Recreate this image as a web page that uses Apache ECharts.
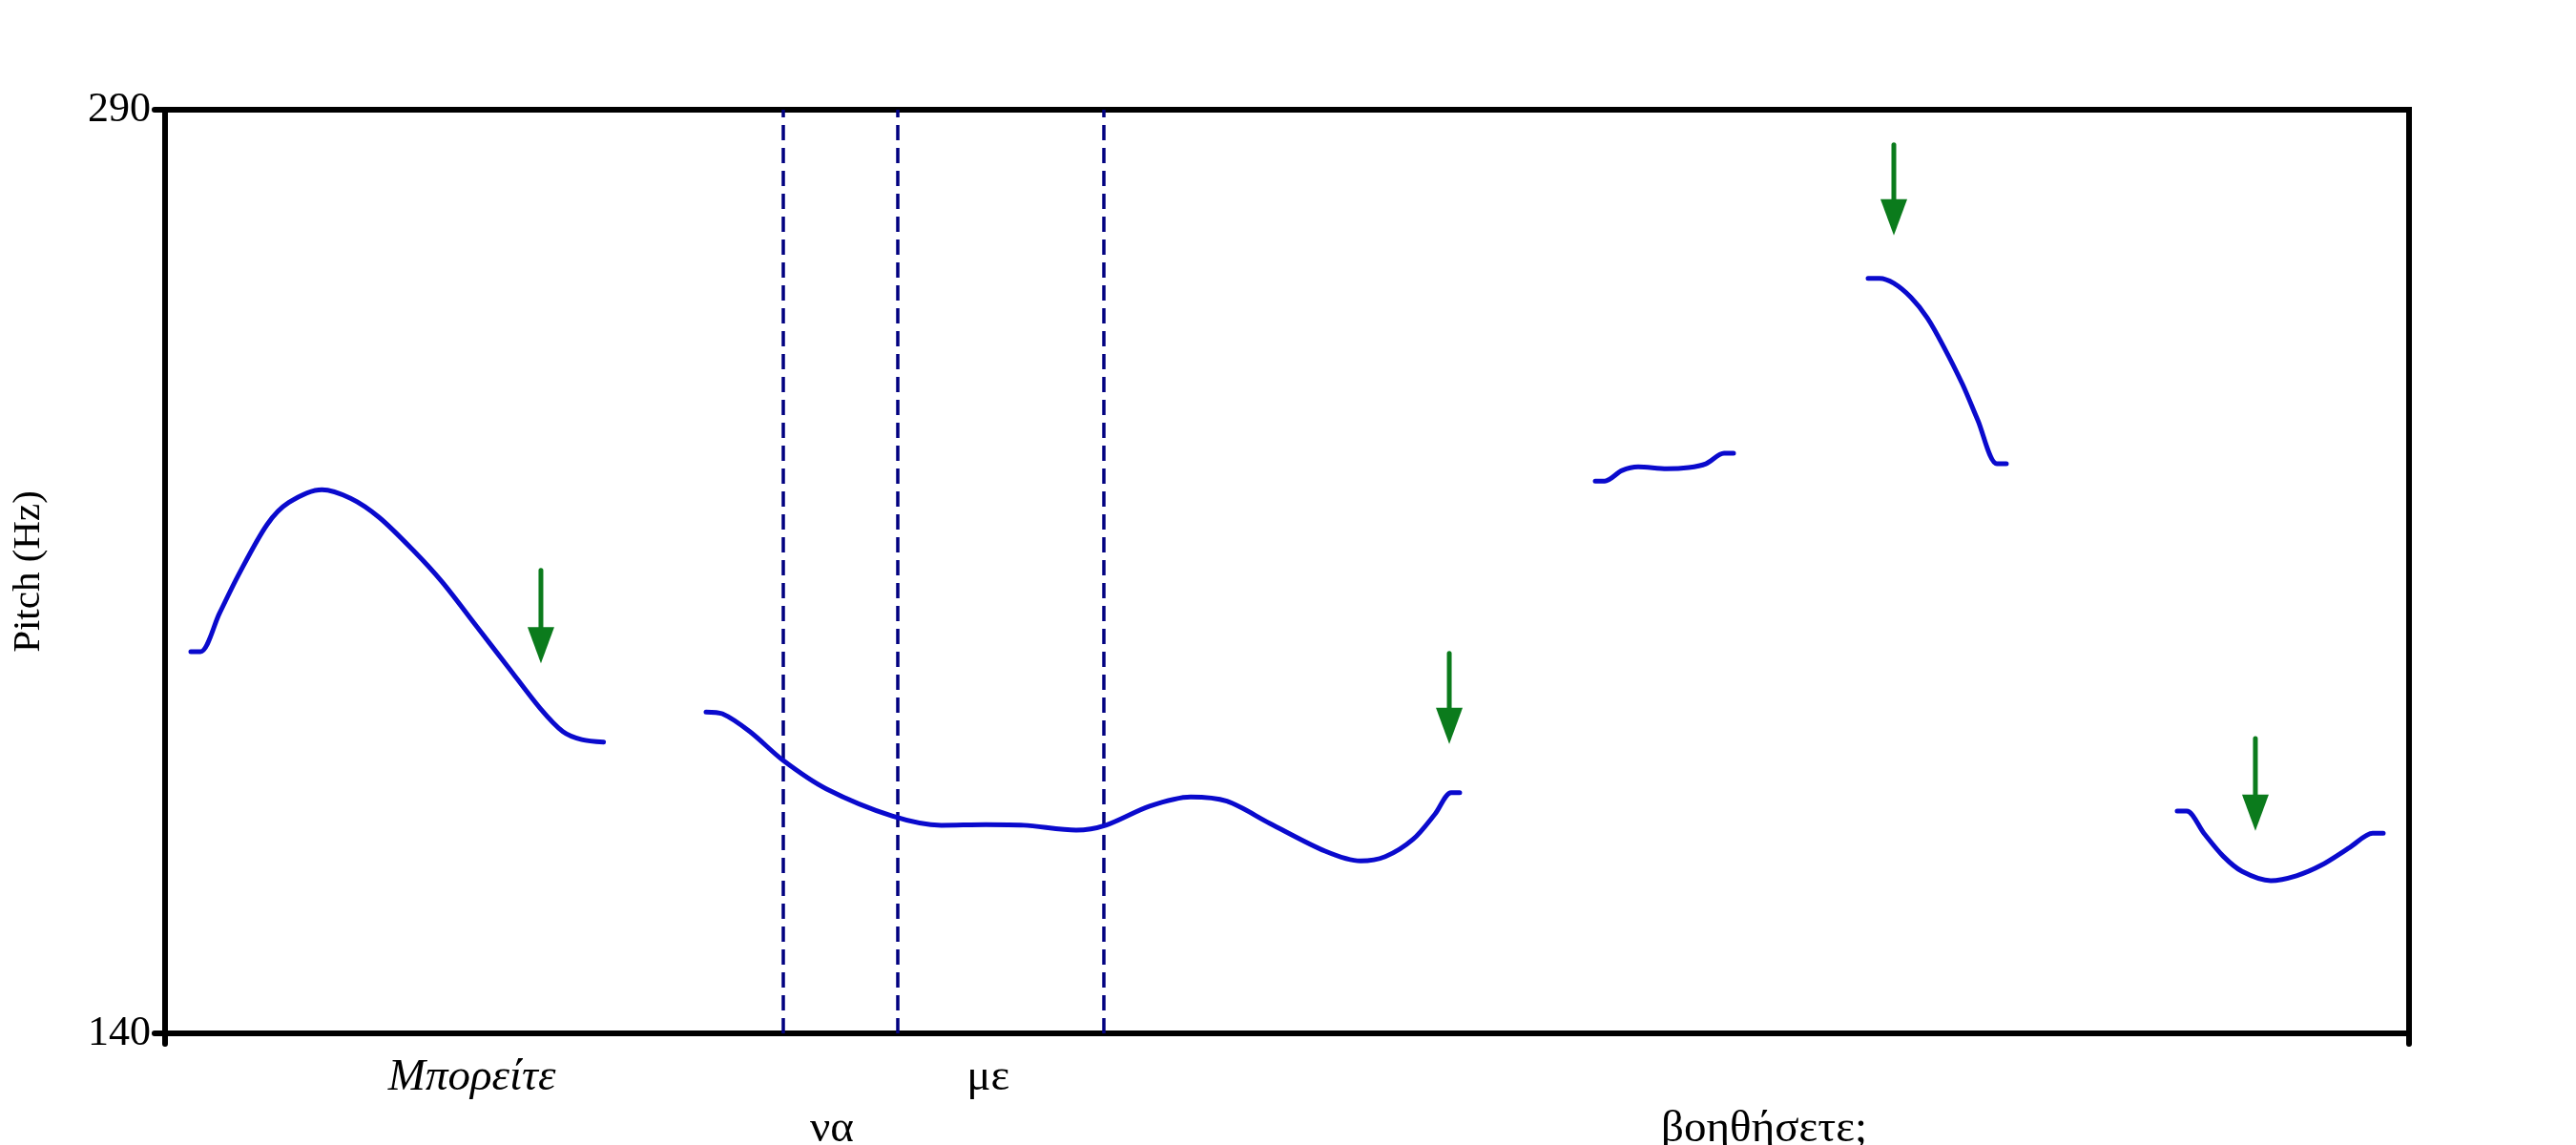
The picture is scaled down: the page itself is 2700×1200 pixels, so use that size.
<!DOCTYPE html>
<html>
<head>
<meta charset="utf-8">
<script src="https://cdn.jsdelivr.net/npm/echarts@6/dist/echarts.min.js"></script>
<style>
html,body{margin:0;padding:0;background:#fff;}
#chart{width:2700px;height:1200px;}
</style>
</head>
<body>
<div id="chart"></div>
<script>
// Time (s) / pitch (Hz) contour segments
var seg1 = [[0.0225,202.0],[0.031,202.0],[0.0475,208.2],[0.064,214.4],[0.089,222.6],[0.108,226.2],[0.137,228.3],[0.162,226.9],[0.187,223.8],[0.217,218.4],[0.242,213.3],[0.2725,206.0],[0.300,199.4],[0.328,192.7],[0.3475,189.0],[0.364,187.7],[0.383,187.3]];
var seg2 = [[0.4725,192.2],[0.4867,191.9],[0.5108,189.0],[0.540,184.3],[0.5775,179.7],[0.635,175.3],[0.678,173.8],[0.7167,173.9],[0.750,173.8],[0.7958,173.0],[0.8217,173.8],[0.860,176.9],[0.8958,178.4],[0.9275,177.7],[0.965,174.1],[1.0133,169.6],[1.0442,168.0],[1.0658,168.7],[1.090,171.5],[1.1092,175.6],[1.1233,179.1],[1.1308,179.1]];
var seg3 = [[1.2492,229.7],[1.2575,229.7],[1.2725,231.4],[1.2867,232.0],[1.3117,231.7],[1.3308,231.9],[1.3458,232.5],[1.3617,234.2],[1.370,234.2]];
var seg4 = [[1.4875,262.6],[1.4975,262.6],[1.510,261.8],[1.525,259.5],[1.5392,256.2],[1.5533,251.6],[1.570,245.4],[1.5833,239.6],[1.600,232.5],[1.6083,232.5]];
var seg5 = [[1.7575,176.1],[1.7658,176.1],[1.7808,172.5],[1.7975,168.8],[1.8142,166.3],[1.8392,164.8],[1.8617,165.6],[1.8833,167.3],[1.9083,170.2],[1.9283,172.5],[1.9375,172.5]];

// Word boundaries (s)
var boundaries = [0.5392, 0.635, 0.8158];

// Arrows: time, top (Hz), tip (Hz)
var arrowTimes = [0.3283, 1.1217, 1.510, 1.8258];
var arrowTops  = [215.2, 201.7, 284.3, 187.9];
var arrowTips  = [200.1, 187.0, 269.6, 172.9];

// Words below axis: time centre, row
var words = ['Μπορείτε', 'να', 'με', 'βοηθήσετε;'];
var wordTimes = [0.268, 0.5825, 0.719, 1.3967];
var wordRows = [0, 1, 0, 1];

var yTicks = [140, 290];
var xTicks = [0, 1.96];

var FONT = '"Liberation Serif","Times New Roman",serif';
var CURVE = '#0a0acd';
var GREEN = '#0b7b1c';

var chart = echarts.init(document.getElementById('chart'));

function lineSeries(d) {
  return {
    type: 'line', data: d, smooth: 0.3, showSymbol: false, symbol: 'none',
    lineStyle: { color: CURVE, width: 5, cap: 'round', join: 'round' },
    z: 5, silent: true, animation: false
  };
}

var arrowData = arrowTimes.map(function (t, i) { return [t, arrowTops[i], arrowTips[i]]; });
var wordData = words.map(function (w, i) { return [wordTimes[i], wordRows[i], i]; });

var option = {
  backgroundColor: '#fff',
  animation: false,
  grid: { left: 173, right: 175, top: 115, bottom: 117, show: true, borderColor: '#000', borderWidth: 6, backgroundColor: 'transparent' },
  xAxis: {
    type: 'value', min: 0, max: 1.96,
    axisLine: { show: true, onZero: false, lineStyle: { color: '#000', width: 6 } },
    axisTick: { show: true, customValues: xTicks, length: 11, lineStyle: { color: '#000', width: 6, cap: 'round' } },
    axisLabel: { show: false },
    splitLine: { show: false }
  },
  yAxis: {
    type: 'value', min: 140, max: 290,
    name: 'Pitch (Hz)', nameLocation: 'middle', nameGap: 122,
    nameTextStyle: { fontFamily: FONT, fontSize: 41, color: '#000' },
    axisLine: { show: true, lineStyle: { color: '#000', width: 6 } },
    axisTick: { show: true, customValues: yTicks, length: 11, lineStyle: { color: '#000', width: 6, cap: 'round' } },
    axisLabel: { customValues: yTicks, fontFamily: FONT, fontSize: 44, color: '#000', margin: 15 },
    splitLine: { show: false }
  },
  series: [
    Object.assign(lineSeries(seg1), {
      markLine: {
        silent: true, symbol: 'none', label: { show: false },
        lineStyle: { color: '#000080', width: 3.5, type: [16, 8] },
        data: boundaries.map(function (b) { return { xAxis: b }; })
      }
    }),
    lineSeries(seg2),
    lineSeries(seg3),
    lineSeries(seg4),
    lineSeries(seg5),
    {
      type: 'custom', data: arrowData, z: 6, silent: true,
      renderItem: function (params, api) {
        var p1 = api.coord([api.value(0), api.value(1)]);
        var p2 = api.coord([api.value(0), api.value(2)]);
        var headL = 38, headW = 14;
        return {
          type: 'group',
          children: [
            { type: 'line', shape: { x1: p1[0], y1: p1[1], x2: p2[0], y2: p2[1] - headL + 2 },
              style: { stroke: GREEN, lineWidth: 5, lineCap: 'round' } },
            { type: 'polygon', shape: { points: [[p2[0] - headW, p2[1] - headL], [p2[0] + headW, p2[1] - headL], [p2[0], p2[1]]] },
              style: { fill: GREEN } }
          ]
        };
      }
    },
    {
      type: 'custom', data: wordData, z: 6, silent: true, clip: false,
      renderItem: function (params, api) {
        var idx = api.value(2);
        var p = api.coord([api.value(0), 140]);
        var row = api.value(1);
        return {
          type: 'text',
          x: p[0], y: p[1] + (row === 0 ? 47 : 101),
          style: {
            text: words[idx], fill: '#000',
            font: (idx === 0 ? 'italic ' : '') + '47px ' + FONT,
            align: 'center', verticalAlign: 'middle'
          }
        };
      }
    }
  ]
};
chart.setOption(option);
</script>
</body>
</html>
